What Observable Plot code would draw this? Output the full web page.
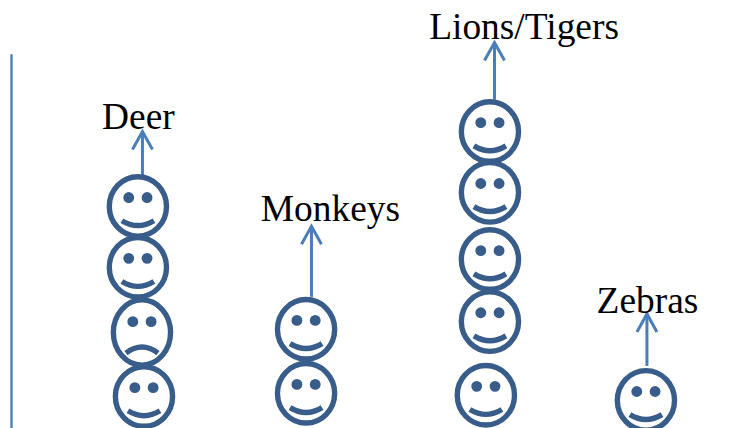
<!DOCTYPE html>
<html>
<head>
<meta charset="utf-8">
<script src="https://cdn.jsdelivr.net/npm/d3@7"></script>
<script src="https://cdn.jsdelivr.net/npm/@observablehq/plot@0.6"></script>
<style>html,body{margin:0;padding:0;background:#fff}svg{display:block}</style>
</head>
<body>
<div id="chart"></div>
<script>
// One entry per animal column
const categories = ["Deer", "Monkeys", "Lions/Tigers", "Zebras"];
const labelCol   = [-0.012, 1.124, 2.27, 3.0];
const labelLevel = [4.675, 3.24, 6.09, 1.805];
const arrowCol   = [0.012, 1.012, 2.095, 2.997];
const arrowBase  = [3.93, 2.05, 5.13, 0.97];
const arrowTip   = [4.64, 3.16, 6.03, 1.79];

// One entry per face drawn in the pictogram
const faceCol   = [-0.015, -0.015, 0.009, 0.021, 0.98, 0.98, 2.068, 2.068, 2.068, 2.068, 2.044, 2.991];
const faceLevel = [3.47, 2.52, 1.5, 0.5, 1.55, 0.55, 4.64, 3.69, 2.64, 1.67, 0.52, 0.44];
const faceMood  = ["happy", "happy", "sad", "happy", "happy", "happy", "happy", "happy", "happy", "happy", "happy", "happy"];

const axisCol = -0.763;
const axisLevels = [0, 5.84];

const faces = faceCol.map((col, i) => ({col, level: faceLevel[i], mood: faceMood[i]}));
const columns = categories.map((name, i) => ({
  name, labelCol: labelCol[i], labelLevel: labelLevel[i],
  arrowCol: arrowCol[i], arrowBase: arrowBase[i], arrowTip: arrowTip[i]
}));

const blue = "#385d8a", arrowBlue = "#4a7ebb";

function ellipse(c, rx, ry) {
  const k = 0.5523;
  c.moveTo(rx, 0);
  c.bezierCurveTo(rx, k * ry, k * rx, ry, 0, ry);
  c.bezierCurveTo(-k * rx, ry, -rx, k * ry, -rx, 0);
  c.bezierCurveTo(-rx, -k * ry, -k * rx, -ry, 0, -ry);
  c.bezierCurveTo(k * rx, -ry, rx, -k * ry, rx, 0);
  c.closePath();
}
const happyFace = {draw(c, size) {
  const r = Math.sqrt(size / Math.PI);
  ellipse(c, r, 1.04 * r);
  c.moveTo(-0.56 * r, 0.5 * r);
  c.quadraticCurveTo(0, 0.84 * r, 0.56 * r, 0.5 * r);
}};
const sadFace = {draw(c, size) {
  const r = Math.sqrt(size / Math.PI);
  ellipse(c, r, 1.14 * r);
  c.moveTo(-0.56 * r, 0.72 * r);
  c.quadraticCurveTo(0, 0.3 * r, 0.56 * r, 0.72 * r);
}};
const eyePair = (dy) => ({draw(c, size) {
  const r = Math.sqrt(size / Math.PI);
  for (const dx of [-0.32 * r, 0.32 * r]) {
    c.moveTo(dx + 0.19 * r, dy * r);
    c.arc(dx, dy * r, 0.19 * r, 0, 2 * Math.PI);
  }
}});
const chevron = {draw(c) {
  c.moveTo(-10, 18);
  c.lineTo(0, 0);
  c.lineTo(10, 18);
}};

const plot = Plot.plot({
  width: 747,
  height: 428,
  margin: 0,
  x: {domain: [-0.828, 3.592], range: [0, 747], axis: null},
  y: {domain: [0, 6.6875], range: [428, 0], axis: null},
  style: {background: "#fff"},
  marks: [
    Plot.ruleX([axisCol], {y1: axisLevels[0], y2: axisLevels[1], stroke: arrowBlue, strokeWidth: 2.4}),
    Plot.ruleX(columns, {x: "arrowCol", y1: "arrowBase", y2: "arrowTip", stroke: arrowBlue, strokeWidth: 3}),
    Plot.dot(columns, {x: "arrowCol", y: "arrowTip", r: 10, symbol: () => chevron, fill: "none", stroke: arrowBlue, strokeWidth: 3}),
    Plot.dot(faces.filter(d => d.mood === "happy"), {x: "col", y: "level", r: 28.6, symbol: happyFace, fill: "none", stroke: blue, strokeWidth: 5.4}),
    Plot.dot(faces.filter(d => d.mood === "sad"), {x: "col", y: "level", r: 28.6, symbol: sadFace, fill: "none", stroke: blue, strokeWidth: 5.4}),
    Plot.dot(faces.filter(d => d.mood === "happy"), {x: "col", y: "level", r: 28.6, symbol: eyePair(-0.31), fill: blue}),
    Plot.dot(faces.filter(d => d.mood === "sad"), {x: "col", y: "level", r: 28.6, symbol: eyePair(-0.38), fill: blue}),
    Plot.text(columns, {x: "labelCol", y: "labelLevel", text: "name", textAnchor: "middle", lineAnchor: "bottom",
      fontFamily: "Liberation Serif", fontSize: 37.4, fill: "#000"})
  ]
});
document.getElementById("chart").appendChild(plot);
</script>
</body>
</html>
